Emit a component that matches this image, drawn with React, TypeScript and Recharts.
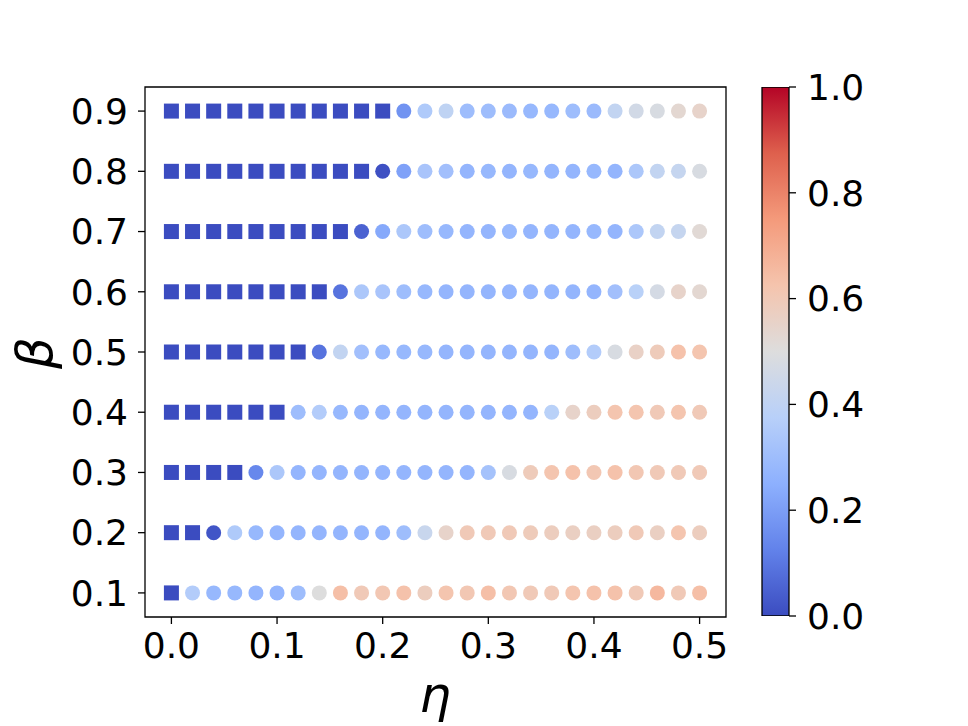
import React from "react";
import {
  ScatterChart, Scatter, XAxis, YAxis, ReferenceArea,
  BarChart, Bar,
} from "recharts";

// eta grid (x) and beta rows (y)
const ETA = [
  0, 0.02, 0.04, 0.06, 0.08, 0.1, 0.12, 0.14, 0.16, 0.18, 0.2, 0.22, 0.24,
  0.26, 0.28, 0.3, 0.32, 0.34, 0.36, 0.38, 0.4, 0.42, 0.44, 0.46, 0.48, 0.5,
];
const BETA = [0.1, 0.2, 0.3, 0.4, 0.5, 0.6, 0.7, 0.8, 0.9];

// how many leading points of each beta row are drawn as squares
const SQUARES = [1, 2, 4, 6, 7, 8, 9, 10, 11];

// colour value (0..1) of each point, one array per beta row
const B01 = [0, 0.36, 0.28, 0.28, 0.27, 0.27, 0.3, 0.5, 0.64, 0.6, 0.61, 0.63, 0.58, 0.62, 0.61, 0.64, 0.61, 0.6, 0.6, 0.62, 0.63, 0.63, 0.6, 0.66, 0.6, 0.64];
const B02 = [0, 0, 0.02, 0.35, 0.28, 0.27, 0.27, 0.27, 0.27, 0.27, 0.27, 0.3, 0.43, 0.55, 0.6, 0.6, 0.6, 0.59, 0.58, 0.57, 0.57, 0.58, 0.6, 0.57, 0.62, 0.58];
const B03 = [0, 0, 0, 0, 0.14, 0.34, 0.27, 0.27, 0.27, 0.27, 0.27, 0.27, 0.27, 0.27, 0.27, 0.32, 0.48, 0.59, 0.62, 0.63, 0.61, 0.63, 0.61, 0.6, 0.6, 0.6];
const B04 = [0, 0, 0, 0, 0, 0, 0.3, 0.36, 0.28, 0.27, 0.27, 0.27, 0.27, 0.27, 0.27, 0.27, 0.27, 0.27, 0.38, 0.55, 0.58, 0.62, 0.62, 0.6, 0.62, 0.6];
const B05 = [0, 0, 0, 0, 0, 0, 0, 0.09, 0.41, 0.31, 0.28, 0.28, 0.28, 0.27, 0.27, 0.27, 0.27, 0.27, 0.27, 0.3, 0.36, 0.48, 0.56, 0.59, 0.63, 0.62];
const B06 = [0, 0, 0, 0, 0, 0, 0, 0, 0.09, 0.34, 0.33, 0.3, 0.28, 0.27, 0.27, 0.27, 0.27, 0.27, 0.27, 0.27, 0.27, 0.31, 0.38, 0.47, 0.55, 0.53];
const B07 = [0, 0, 0, 0, 0, 0, 0, 0, 0, 0.05, 0.23, 0.34, 0.3, 0.28, 0.27, 0.27, 0.28, 0.27, 0.27, 0.27, 0.28, 0.27, 0.34, 0.41, 0.42, 0.52];
const B08 = [0, 0, 0, 0, 0, 0, 0, 0, 0, 0, 0.01, 0.21, 0.33, 0.31, 0.27, 0.28, 0.27, 0.28, 0.27, 0.27, 0.28, 0.27, 0.34, 0.41, 0.42, 0.48];
const B09 = [0, 0, 0, 0, 0, 0, 0, 0, 0, 0, 0, 0.17, 0.35, 0.4, 0.3, 0.3, 0.29, 0.28, 0.28, 0.3, 0.29, 0.41, 0.46, 0.48, 0.53, 0.55];
const ROWS = [B01, B02, B03, B04, B05, B06, B07, B08, B09];

const X_TICKS = [0, 0.1, 0.2, 0.3, 0.4, 0.5];
const Y_TICKS = [0.1, 0.2, 0.3, 0.4, 0.5, 0.6, 0.7, 0.8, 0.9];
const CB_TICKS = [0, 0.2, 0.4, 0.6, 0.8, 1];

// matplotlib "coolwarm" sampled every 1/8
const COOLWARM = [
  [59, 76, 192], [98, 130, 234], [141, 176, 254], [184, 208, 249],
  [221, 221, 221], [245, 196, 173], [244, 154, 123], [222, 96, 77], [180, 4, 38],
];

function coolwarm(v: number) {
  const t = Math.max(0, Math.min(1, v)) * (COOLWARM.length - 1);
  const i = Math.min(Math.floor(t), COOLWARM.length - 2);
  const f = t - i;
  const a = COOLWARM[i], b = COOLWARM[i + 1];
  const c = a.map((x, k) => Math.round(x + (b[k] - x) * f));
  return `rgb(${c[0]},${c[1]},${c[2]})`;
}

const points = BETA.flatMap((beta, r) =>
  ETA.map((eta, i) => ({ eta, beta, v: ROWS[r][i], square: i < SQUARES[r] }))
);

const FONT = "DejaVu Sans";
const tickStyle = { fontSize: 36, fill: "#000", fontFamily: FONT };

const Marker = (props: any) => {
  const { cx, cy, payload } = props;
  const c = coolwarm(payload.v);
  if (payload.square) {
    return <rect x={cx - 7.5} y={cy - 7.5} width={15} height={15} fill={c} />;
  }
  return <circle cx={cx} cy={cy} r={7.5} fill={c} />;
};

export default function App() {
  return (
    <div style={{ position: "absolute", left: 0, top: 0, width: 968, height: 726, background: "#fff" }}>
      <ScatterChart width={968} height={726} margin={{ top: 87, right: 242, bottom: 49, left: 85 }}>
        <XAxis type="number" dataKey="eta" domain={[-0.025, 0.525]} ticks={X_TICKS} allowDataOverflow
          tickFormatter={(v: number) => v.toFixed(1)} height={60} tickSize={7} tickMargin={8}
          tick={tickStyle} axisLine={false} tickLine={{ stroke: "#000", strokeWidth: 1.3 }} />
        <YAxis type="number" dataKey="beta" domain={[0.06, 0.94]} ticks={Y_TICKS} allowDataOverflow
          tickFormatter={(v: number) => v.toFixed(1)} width={60} tickSize={7} tickMargin={10}
          tick={tickStyle} axisLine={false} tickLine={{ stroke: "#000", strokeWidth: 1.3 }} />
        <Scatter data={points} shape={Marker} isAnimationActive={false} />
        <ReferenceArea x1={-0.025} x2={0.525} y1={0.06} y2={0.94} fill="none" fillOpacity={0}
          stroke="#000" strokeWidth={1.3} />
      </ScatterChart>

      <div style={{ position: "absolute", left: 700, top: 0 }}>
        <BarChart width={200} height={726} data={[{ name: "cb", v: 1 }]}
          margin={{ top: 87, right: 31, bottom: 110, left: 62 }} barCategoryGap={0}>
          <defs>
            <linearGradient id="cw" x1="0" y1="1" x2="0" y2="0">
              {COOLWARM.map((_, k) => (
                <stop key={k} offset={k / (COOLWARM.length - 1)} stopColor={coolwarm(k / (COOLWARM.length - 1))} />
              ))}
            </linearGradient>
          </defs>
          <XAxis dataKey="name" hide />
          <YAxis orientation="right" type="number" domain={[0, 1]} ticks={CB_TICKS} allowDataOverflow
            tickFormatter={(v: number) => v.toFixed(1)} width={80} tickSize={7} tickMargin={11}
            tick={{ ...tickStyle, textAnchor: "start" }} axisLine={false}
            tickLine={{ stroke: "#000", strokeWidth: 1.3 }} />
          <Bar dataKey="v" fill="url(#cw)" stroke="#000" strokeWidth={1.3} isAnimationActive={false} />
        </BarChart>
      </div>

      <svg width={968} height={726} style={{ position: "absolute", left: 0, top: 0, pointerEvents: "none" }}>
        <text x={435} y={712} textAnchor="middle" fontSize={50} fontStyle="italic" fontFamily={FONT}>η</text>
        <text x={52} y={353} textAnchor="middle" fontSize={50} fontStyle="italic" fontFamily={FONT}
          transform="rotate(-90, 52, 353)">β</text>
      </svg>
    </div>
  );
}
